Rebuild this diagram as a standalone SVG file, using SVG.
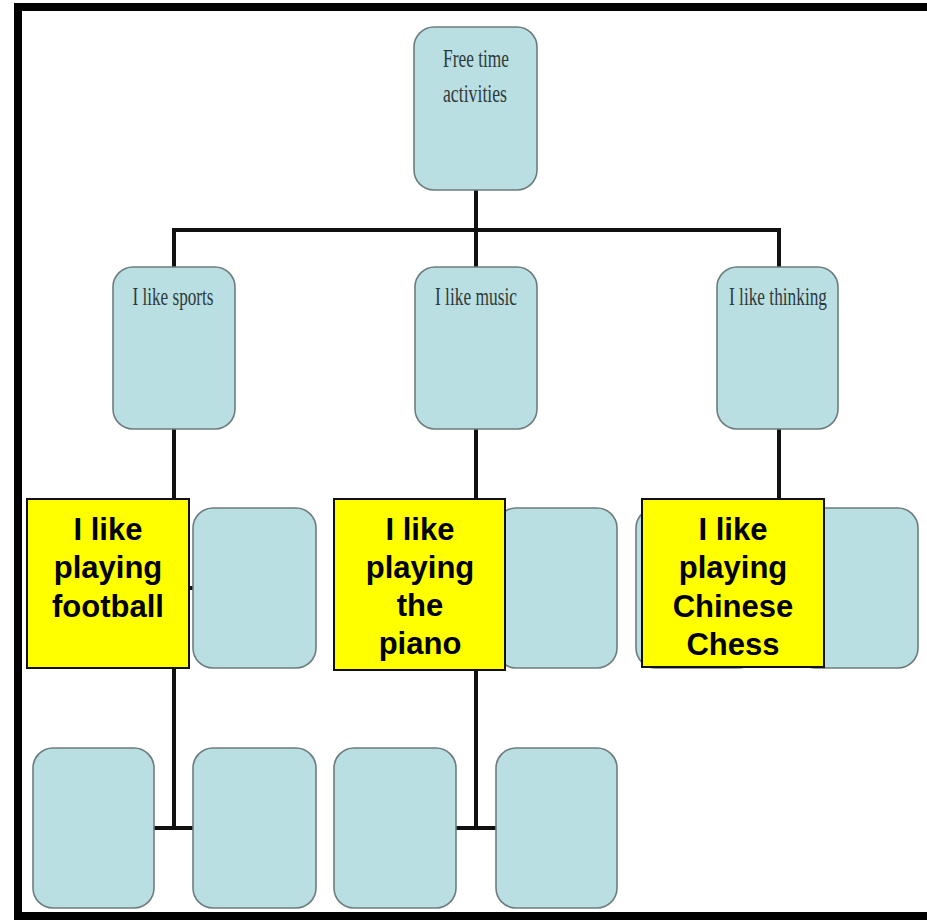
<svg xmlns="http://www.w3.org/2000/svg" width="927" height="920" viewBox="0 0 927 920">
  <style>
    .box { fill: #b9dfe2; stroke: #6e7c7e; stroke-width: 1.6; }
    .label { font-family: "Liberation Serif", "Times New Roman", serif; fill: #2f3a3a; text-anchor: middle; }
    .note { fill: #ffff00; stroke: #111; stroke-width: 2; }
    .note-text { font-family: "Liberation Sans", Arial, sans-serif; font-weight: bold; font-size: 31px; fill: #000; text-anchor: middle; }
    .wire { stroke: #111; stroke-width: 4; fill: none; }
    .frame { fill: #000; }
  </style>

  <rect width="927" height="920" fill="#fff"/>

  <!-- outer frame -->
  <g id="frame">
    <rect class="frame" x="14" y="3" width="913" height="8"/>
    <rect class="frame" x="14" y="3" width="8" height="917"/>
    <rect class="frame" x="14" y="912" width="913" height="8"/>
  </g>

  <!-- connectors -->
  <g id="connectors">
    <path class="wire" d="M476 190 V230 M173 230 H779 M174 228 V267 M476 228 V267 M779 228 V267"/>
    <path class="wire" d="M174 429 V828 M174 588 H193 M154 828 H193"/>
    <path class="wire" d="M476 429 V828 M456 588 H505 M456 828 H496"/>
    <path class="wire" d="M779 429 V588 M758 588 H796"/>
  </g>

  <g id="root">
    <rect class="box" x="414" y="27" width="123" height="163" rx="20"/>
    <text class="label" x="476" y="67" font-size="25" textLength="66" lengthAdjust="spacingAndGlyphs">Free time</text>
    <text class="label" x="475" y="102" font-size="25" textLength="64" lengthAdjust="spacingAndGlyphs">activities</text>
  </g>

  <g id="sports">
    <rect class="box" x="113" y="267" width="122" height="162" rx="20"/>
    <text class="label" x="173" y="305" font-size="26" textLength="81" lengthAdjust="spacingAndGlyphs">I like sports</text>
  </g>
  <g id="music">
    <rect class="box" x="415" y="267" width="122" height="162" rx="20"/>
    <text class="label" x="476" y="305" font-size="26" textLength="82" lengthAdjust="spacingAndGlyphs">I like music</text>
  </g>
  <g id="thinking">
    <rect class="box" x="717" y="267" width="121" height="162" rx="20"/>
    <text class="label" x="778" y="305" font-size="26" textLength="98" lengthAdjust="spacingAndGlyphs">I like thinking</text>
  </g>

  <!-- third row -->
  <g id="sports-a"><rect class="box" x="33" y="508" width="122" height="160" rx="20"/></g>
  <g id="sports-b"><rect class="box" x="193" y="508" width="123" height="160" rx="20"/></g>
  <g id="music-a"><rect class="box" x="334" y="508" width="122" height="160" rx="20"/></g>
  <g id="music-b"><rect class="box" x="496" y="508" width="121" height="160" rx="20"/></g>
  <g id="thinking-a"><rect class="box" x="636" y="508" width="122" height="160" rx="20"/></g>
  <g id="thinking-b"><rect class="box" x="796" y="508" width="122" height="160" rx="20"/></g>

  <!-- fourth row -->
  <g id="sports-c"><rect class="box" x="33" y="748" width="121" height="160" rx="20"/></g>
  <g id="sports-d"><rect class="box" x="193" y="748" width="123" height="160" rx="20"/></g>
  <g id="music-c"><rect class="box" x="334" y="748" width="122" height="160" rx="20"/></g>
  <g id="music-d"><rect class="box" x="496" y="748" width="121" height="160" rx="20"/></g>

  <!-- answer notes -->
  <g id="note-football">
    <rect class="note" x="27" y="499" width="162" height="169"/>
    <text class="note-text" x="108" y="540">I like</text>
    <text class="note-text" x="108" y="578">playing</text>
    <text class="note-text" x="108" y="617">football</text>
  </g>
  <g id="note-piano">
    <rect class="note" x="334" y="499" width="171" height="171"/>
    <text class="note-text" x="420" y="540">I like</text>
    <text class="note-text" x="420" y="578">playing</text>
    <text class="note-text" x="420" y="616">the</text>
    <text class="note-text" x="420" y="654">piano</text>
  </g>
  <g id="note-chess">
    <rect class="note" x="642" y="499" width="182" height="168"/>
    <text class="note-text" x="733" y="540">I like</text>
    <text class="note-text" x="733" y="578">playing</text>
    <text class="note-text" x="733" y="617">Chinese</text>
    <text class="note-text" x="733" y="655">Chess</text>
  </g>
</svg>
